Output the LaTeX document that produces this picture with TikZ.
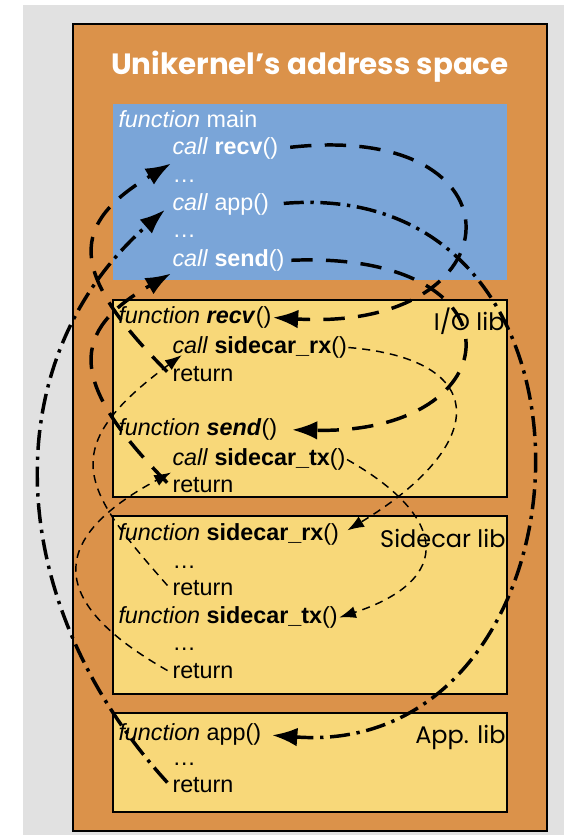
\documentclass[tikz,border=0pt]{standalone}
\usepackage{fontspec}
\setmainfont{Liberation Sans}
\newfontfamily\handfont{Poppins}
\usetikzlibrary{arrows.meta}

\tikzset{every picture/.style={line width=0.75pt}}
\tikzset{
  codeline/.style={anchor=base west, inner sep=0.75pt, text height=12.75pt, text depth=4.5pt,
    font=\fontsize{17.5}{21}\selectfont},
  mainline/.style={codeline, text=white},
  liblabel/.style={anchor=base east, inner sep=0.75pt, font=\handfont\fontsize{18}{22}\selectfont},
  calldash/.style={line width=2.6pt, dash pattern=on 16pt off 10pt, -{Latex[length=19pt,width=14pt]}},
  calldashdot/.style={line width=2.6pt, dash pattern=on 15pt off 5pt on 2.5pt off 5pt, -{Latex[length=19pt,width=14pt]}},
  sidedash/.style={line width=1.1pt, dash pattern=on 6pt off 4.5pt, -{Latex[length=12.5pt,width=9pt]}}
}

\begin{document}
\begin{tikzpicture}[x=0.75pt,y=0.75pt,yscale=-1,xscale=1]
\path[use as bounding box] (0,0) rectangle (564,835);

%Shape: Rectangle [page]
\fill [color={rgb, 255:red, 255; green, 255; blue, 255 }] (0,0) rectangle (564,835);
\fill [color={rgb, 255:red, 225; green, 225; blue, 225 }] (23,5) rectangle (564,835);
%Shape: Rectangle [address space]
\draw [fill={rgb, 255:red, 219; green, 146; blue, 74 }, line width=1.5] (73,24) rectangle (547,831);
%Shape: Rectangle [main]
\fill [color={rgb, 255:red, 122; green, 165; blue, 216 }] (113,104) rectangle (507,280);
%Shape: Rectangle [I/O lib]
\draw [fill={rgb, 255:red, 248; green, 216; blue, 121 }, line width=1.5] (113,300) rectangle (507,497);
%Shape: Rectangle [Sidecar lib]
\draw [fill={rgb, 255:red, 248; green, 216; blue, 121 }, line width=1.5] (113,516) rectangle (507,694);
%Shape: Rectangle [App. lib]
\draw [fill={rgb, 255:red, 248; green, 216; blue, 121 }, line width=1.5] (113,713) rectangle (507,812);

% Title
\draw (310,74) node [anchor=base, inner sep=0.75pt, text=white, font=\handfont\bfseries\fontsize{22}{26}\selectfont] (title) {Unikernel’s address space};

% Text Node: main
\draw (117,127) node [mainline] (fmain) {\textit{function} main};
\draw (171,154) node [mainline] (crecv) {\textit{call} \textbf{recv}()};
\draw (171,182) node [mainline] (dots1) {\ldots};
\draw (171,210) node [mainline] (capp) {\textit{call} app()};
\draw (171,237) node [mainline] (dots2) {\ldots};
\draw (171,266) node [mainline] (csend) {\textit{call} \textbf{send}()};

% Text Node: I/O lib
\draw (117,323) node [codeline] (frecv) {\textit{function \textbf{recv}}()};
\draw (171,353) node [codeline] (crx) {\textit{call} \textbf{sidecar\_rx}()};
\draw (171,381) node [codeline] (rrecv) {return};
\draw (117,435) node [codeline] (fsend) {\textit{function \textbf{send}}()};
\draw (171,465) node [codeline] (ctx) {\textit{call} \textbf{sidecar\_tx}()};
\draw (171,492) node [codeline] (rsend) {return};

% Text Node: Sidecar lib
\draw (117,540) node [codeline] (frx) {\textit{function} \textbf{sidecar\_rx}()};
\draw (171,568) node [codeline] (dots3) {\ldots};
\draw (171,595) node [codeline] (rrx) {return};
\draw (117,623) node [codeline] (ftx) {\textit{function} \textbf{sidecar\_tx}()};
\draw (171,650) node [codeline] (dots4) {\ldots};
\draw (171,678) node [codeline] (rtx) {return};

% Text Node: App. lib
\draw (117,740) node [codeline] (fapp) {\textit{function} app()};
\draw (171,765) node [codeline] (dots5) {\ldots};
\draw (171,792) node [codeline] (rapp) {return};

% Library labels
\draw (506,330) node [liblabel] (iolib) {I/O lib};
\draw (507,547) node [liblabel] (sidelib) {Sidecar lib};
\draw (507,743) node [liblabel] (applib) {App. lib};

% Calls from main
\draw [calldash, shorten <=8pt] (crecv.east) .. controls +(250,-28) and +(245,15) .. (frecv.east);
\draw [calldash, shorten <=4pt, shorten >=10pt] (csend.east) .. controls +(241,-10) and +(235,5) .. (fsend.east);
\draw [calldashdot, shorten <=10pt, shorten >=7pt] (capp.east) .. controls +(364,-30) and +(338,25) .. (fapp.east);
% Returns to main
\draw [calldash, shorten <=4pt] (rrecv.west) .. controls +(-105,-105) and +(-100,60) .. (dots1.north west);
\draw [calldash, shorten <=4pt] (rsend.west) .. controls +(-105,-106) and +(-100,57) .. (csend.south west);
\draw [calldashdot, shorten <=4pt, shorten >=6pt] (rapp.west) .. controls +(-170,-186) and +(-177,155) .. (capp.west);

% Calls into the sidecar
\draw [sidedash, shorten >=6pt] (crx.east) .. controls +(144,12) and +(148,-89.5) .. (frx.east);
\draw [sidedash] (ctx.east) .. controls +(99,56) and +(117,-38.5) .. (ftx.east);
% Returns from the sidecar
\draw [sidedash, shorten <=4pt] (rrx.west) .. controls +(-90,-102) and +(-126,93) .. ([xshift=8pt,yshift=-4pt]crx.south west);
\draw [sidedash, shorten <=3pt] (rtx.west) .. controls +(-127,-72) and +(-121,65) .. (ctx.south west);

\end{tikzpicture}
\end{document}
